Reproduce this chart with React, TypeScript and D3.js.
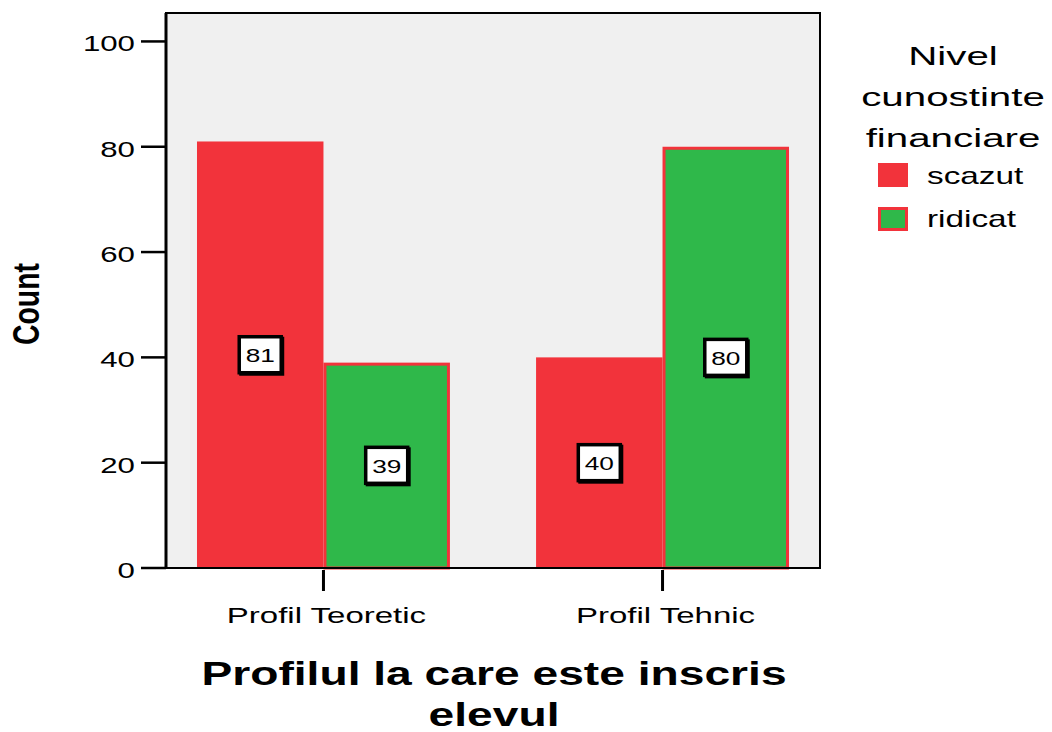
import React, { useEffect } from "react";
import * as d3 from "d3";

const categories = ["Profil Teoretic", "Profil Tehnic"];
const seriesNames = ["scazut", "ridicat"];
const scazutValues = [81, 40];
const ridicatValues = [39, 80];
const yTicks = [0, 20, 40, 60, 80, 100];
const legendTitle = ["Nivel", "cunostinte", "financiare"];
const xTitle = ["Profilul la care este inscris", "elevul"];
const yTitle = "Count";

const RED = "#f2333b";
const GREEN = "#2fb84a";
const FONT = "'Liberation Sans', Arial, Helvetica, sans-serif";

function SText(props: {
  x: number; y: number; sx: number; size: number; anchor?: string;
  bold?: boolean; rotate?: number; children: React.ReactNode;
}) {
  const { x, y, sx, size, anchor = "middle", bold = false, rotate = 0, children } = props;
  return (
    <text
      transform={`translate(${x},${y}) scale(${sx},1)${rotate ? ` rotate(${rotate})` : ""}`}
      fontFamily={FONT}
      fontSize={size}
      fontWeight={bold ? "bold" : "normal"}
      textAnchor={anchor}
      fill="#000"
    >
      {children}
    </text>
  );
}

export default function App() {
  useEffect(() => {
    document.body.style.margin = "0";
  }, []);

  const W = 1052, H = 732;
  const left = 166, right = 820, top = 13, bottom = 568;

  const y = d3.scaleLinear().domain([0, 105.4]).range([bottom, top]);
  const x = d3.scaleBand<string>().domain(categories).range([left, right])
    .paddingInner(0.254).paddingOuter(0.0914);
  const xs = d3.scaleBand<string>().domain(seriesNames).range([0, x.bandwidth()]).padding(0);
  const color = d3.scaleOrdinal<string, string>().domain(seriesNames).range([RED, GREEN]);

  const valuesBySeries: Record<string, number[]> = { scazut: scazutValues, ridicat: ridicatValues };

  const bars: { cat: string; s: string; v: number }[] = [];
  categories.forEach((c, i) => seriesNames.forEach((s) => bars.push({ cat: c, s, v: valuesBySeries[s][i] })));

  const boxW = 45, boxH = 39;

  return (
    <svg width={W} height={H} style={{ display: "block" }}>
      <rect x={0} y={0} width={W} height={H} fill="#fff" />
      <rect x={left} y={top} width={right - left} height={bottom - top} fill="#f0f0f0" />

      {bars.map((b, i) => {
        const bx = (x(b.cat) as number) + (xs(b.s) as number);
        const by = y(b.v);
        const isGreen = b.s === "ridicat";
        return isGreen ? (
          <rect key={i} x={bx + 1.5} y={by + 1.5} width={xs.bandwidth() - 3} height={bottom - by - 1.5}
            fill={color(b.s)} stroke={RED} strokeWidth={3} />
        ) : (
          <rect key={i} x={bx} y={by} width={xs.bandwidth()} height={bottom - by}
            fill={color(b.s)} />
        );
      })}

      {/* frame */}
      <rect x={left} y={top} width={right - left} height={bottom - top} fill="none" stroke="#000" strokeWidth={2} />
      <line x1={left} x2={left} y1={top} y2={bottom + 1} stroke="#000" strokeWidth={3} />

      {/* y ticks */}
      {yTicks.map((t) => (
        <g key={t}>
          <line x1={141} x2={left} y1={y(t)} y2={y(t)} stroke="#000" strokeWidth={2.5} />
          <SText x={135} y={y(t) + 10} sx={1.42} size={22} anchor="end">{t}</SText>
        </g>
      ))}

      {/* x ticks */}
      {categories.map((c) => {
        const cx = (x(c) as number) + x.bandwidth() / 2;
        return (
          <g key={c}>
            <line x1={cx} x2={cx} y1={bottom + 2} y2={bottom + 23} stroke="#000" strokeWidth={3} />
            <SText x={cx + 3} y={623} sx={1.5} size={22}>{c}</SText>
          </g>
        );
      })}

      {/* value boxes */}
      {bars.map((b, i) => {
        const cx = (x(b.cat) as number) + (xs(b.s) as number) + xs.bandwidth() / 2;
        const cy = y(b.v / 2);
        return (
          <g key={"l" + i}>
            <rect x={cx - boxW / 2 + 1.5} y={cy - boxH / 2 + 1.5} width={boxW} height={boxH} fill="#000" />
            <rect x={cx - boxW / 2 + 1.5} y={cy - boxH / 2 + 1.5} width={boxW - 3} height={boxH - 3}
              fill="#fff" stroke="#000" strokeWidth={3.5} />
            <SText x={cx} y={cy + 7.5} sx={1.38} size={19}>{b.v}</SText>
          </g>
        );
      })}

      {/* axis titles */}
      {xTitle.map((t, i) => (
        <SText key={t} x={494} y={685 + i * 41} sx={1.4} size={33} bold>{t}</SText>
      ))}
      <SText x={39} y={304} sx={1.27} size={28.4} bold rotate={-90}>{yTitle}</SText>

      {/* legend */}
      {legendTitle.map((t, i) => (
        <SText key={t} x={953} y={65 + i * 41} sx={1.55} size={26}>{t}</SText>
      ))}
      {seriesNames.map((s, i) => (
        <g key={s}>
          {s === "ridicat" ? (
            <rect x={879.5} y={208.5} width={27} height={21} fill={color(s)} stroke={RED} strokeWidth={3} />
          ) : (
            <rect x={878} y={163} width={30} height={24} fill={color(s)} />
          )}
          <SText x={927} y={184 + i * 43} sx={1.45} size={23} anchor="start">{s}</SText>
        </g>
      ))}
    </svg>
  );
}
